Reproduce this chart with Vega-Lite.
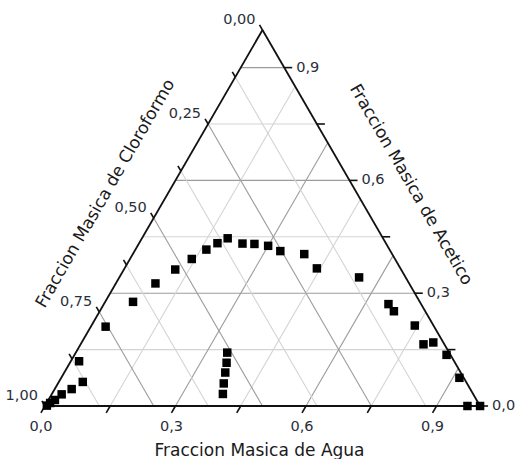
{
  "$schema": "https://vega.github.io/schema/vega-lite/v6.json",
  "width": 516,
  "height": 459,
  "autosize": {"type": "fit", "contains": "padding"},
  "padding": 0,
  "background": "white",
  "config": {"view": {"stroke": null}},
  "datasets": {
    "points": [
      {"agua": 0.004, "acetico": 0.001},
      {"agua": 0.008, "acetico": 0.008},
      {"agua": 0.015, "acetico": 0.016},
      {"agua": 0.023, "acetico": 0.031},
      {"agua": 0.039, "acetico": 0.045},
      {"agua": 0.055, "acetico": 0.064},
      {"agua": 0.019, "acetico": 0.119},
      {"agua": 0.034, "acetico": 0.211},
      {"agua": 0.064, "acetico": 0.277},
      {"agua": 0.091, "acetico": 0.326},
      {"agua": 0.118, "acetico": 0.363},
      {"agua": 0.142, "acetico": 0.391},
      {"agua": 0.163, "acetico": 0.416},
      {"agua": 0.18, "acetico": 0.433},
      {"agua": 0.197, "acetico": 0.446},
      {"agua": 0.238, "acetico": 0.432},
      {"agua": 0.266, "acetico": 0.431},
      {"agua": 0.3, "acetico": 0.426},
      {"agua": 0.335, "acetico": 0.412},
      {"agua": 0.394, "acetico": 0.404},
      {"agua": 0.442, "acetico": 0.366},
      {"agua": 0.551, "acetico": 0.342},
      {"agua": 0.654, "acetico": 0.271},
      {"agua": 0.676, "acetico": 0.252},
      {"agua": 0.743, "acetico": 0.214},
      {"agua": 0.788, "acetico": 0.164},
      {"agua": 0.808, "acetico": 0.169},
      {"agua": 0.855, "acetico": 0.136},
      {"agua": 0.915, "acetico": 0.075},
      {"agua": 0.971, "acetico": 0.0},
      {"agua": 1.0, "acetico": 0.0},
      {"agua": 0.348, "acetico": 0.142},
      {"agua": 0.36, "acetico": 0.115},
      {"agua": 0.37, "acetico": 0.089},
      {"agua": 0.381, "acetico": 0.06},
      {"agua": 0.393, "acetico": 0.032}
    ],
    "grid": [
      {"kind": "minor", "a1": 0, "b1": 0.15, "a2": 0.85, "b2": 0.15},
      {"kind": "major", "a1": 0, "b1": 0.3, "a2": 0.7, "b2": 0.3},
      {"kind": "minor", "a1": 0, "b1": 0.45, "a2": 0.55, "b2": 0.45},
      {"kind": "major", "a1": 0, "b1": 0.6, "a2": 0.4, "b2": 0.6},
      {"kind": "minor", "a1": 0, "b1": 0.75, "a2": 0.25, "b2": 0.75},
      {"kind": "major", "a1": 0, "b1": 0.9, "a2": 0.1, "b2": 0.9},
      {"kind": "minor", "a1": 0.15, "b1": 0, "a2": 0.15, "b2": 0.85},
      {"kind": "major", "a1": 0.3, "b1": 0, "a2": 0.3, "b2": 0.7},
      {"kind": "minor", "a1": 0.45, "b1": 0, "a2": 0.45, "b2": 0.55},
      {"kind": "major", "a1": 0.6, "b1": 0, "a2": 0.6, "b2": 0.4},
      {"kind": "minor", "a1": 0.75, "b1": 0, "a2": 0.75, "b2": 0.25},
      {"kind": "major", "a1": 0.9, "b1": 0, "a2": 0.9, "b2": 0.1},
      {"kind": "minor", "a1": 0.875, "b1": 0, "a2": 0, "b2": 0.875},
      {"kind": "major", "a1": 0.75, "b1": 0, "a2": 0, "b2": 0.75},
      {"kind": "minor", "a1": 0.625, "b1": 0, "a2": 0, "b2": 0.625},
      {"kind": "major", "a1": 0.5, "b1": 0, "a2": 0, "b2": 0.5},
      {"kind": "minor", "a1": 0.375, "b1": 0, "a2": 0, "b2": 0.375},
      {"kind": "major", "a1": 0.25, "b1": 0, "a2": 0, "b2": 0.25},
      {"kind": "minor", "a1": 0.125, "b1": 0, "a2": 0, "b2": 0.125}
    ],
    "edges": [
      {"a1": 0, "b1": 0, "a2": 1, "b2": 0},
      {"a1": 1, "b1": 0, "a2": 0, "b2": 1},
      {"a1": 0, "b1": 1, "a2": 0, "b2": 0}
    ],
    "ticks": [
      {"axis": "right", "agua": 1.0, "acetico": 0.0, "label": "0,0"},
      {"axis": "right", "agua": 0.85, "acetico": 0.15, "label": ""},
      {"axis": "right", "agua": 0.7, "acetico": 0.3, "label": "0,3"},
      {"axis": "right", "agua": 0.55, "acetico": 0.45, "label": ""},
      {"axis": "right", "agua": 0.4, "acetico": 0.6, "label": "0,6"},
      {"axis": "right", "agua": 0.25, "acetico": 0.75, "label": ""},
      {"axis": "right", "agua": 0.1, "acetico": 0.9, "label": "0,9"},
      {"axis": "bottom", "agua": 0.0, "acetico": 0, "label": "0,0"},
      {"axis": "bottom", "agua": 0.15, "acetico": 0, "label": ""},
      {"axis": "bottom", "agua": 0.3, "acetico": 0, "label": "0,3"},
      {"axis": "bottom", "agua": 0.45, "acetico": 0, "label": ""},
      {"axis": "bottom", "agua": 0.6, "acetico": 0, "label": "0,6"},
      {"axis": "bottom", "agua": 0.75, "acetico": 0, "label": ""},
      {"axis": "bottom", "agua": 0.9, "acetico": 0, "label": "0,9"},
      {"axis": "left", "agua": 0, "acetico": 1.0, "label": "0,00"},
      {"axis": "left", "agua": 0, "acetico": 0.875, "label": ""},
      {"axis": "left", "agua": 0, "acetico": 0.75, "label": "0,25"},
      {"axis": "left", "agua": 0, "acetico": 0.625, "label": ""},
      {"axis": "left", "agua": 0, "acetico": 0.5, "label": "0,50"},
      {"axis": "left", "agua": 0, "acetico": 0.375, "label": ""},
      {"axis": "left", "agua": 0, "acetico": 0.25, "label": "0,75"},
      {"axis": "left", "agua": 0, "acetico": 0.125, "label": ""},
      {"axis": "left", "agua": 0, "acetico": 0.0, "label": "1,00"}
    ],
    "titles": [
      {"axis": "left", "title": "Fraccion Masica de Cloroformo", "agua": 0, "acetico": 0.5},
      {"axis": "right", "title": "Fraccion Masica de Acetico", "agua": 0.5, "acetico": 0.5},
      {"axis": "bottom", "title": "Fraccion Masica de Agua", "agua": 0.5, "acetico": 0}
    ]
  },
  "layer": [
    {
      "data": {"name": "grid"},
      "transform": [
        {"calculate": "datum.a1 + datum.b1 / 2", "as": "X1"},
        {"calculate": "datum.a2 + datum.b2 / 2", "as": "X2"}
      ],
      "mark": {"type": "rule", "strokeWidth": 1.1},
      "encoding": {
        "x": {"field": "X1", "type": "quantitative", "scale": {"domain": [-0.10321, 1.08028], "nice": false, "zero": false}, "axis": null},
        "y": {"field": "b1", "type": "quantitative", "scale": {"domain": [-0.14096, 1.07979], "nice": false, "zero": false}, "axis": null},
        "x2": {"field": "X2"},
        "y2": {"field": "b2"},
        "color": {"field": "kind", "type": "nominal", "scale": {"domain": ["major", "minor"], "range": ["#9c9c9c", "#d4d4d4"]}, "legend": null}
      }
    },
    {
      "data": {"name": "edges"},
      "transform": [
        {"calculate": "datum.a1 + datum.b1 / 2", "as": "X1"},
        {"calculate": "datum.a2 + datum.b2 / 2", "as": "X2"}
      ],
      "mark": {"type": "rule", "strokeWidth": 1.8, "color": "#111111"},
      "encoding": {
        "x": {"field": "X1", "type": "quantitative", "scale": {"domain": [-0.10321, 1.08028], "nice": false, "zero": false}, "axis": null},
        "y": {"field": "b1", "type": "quantitative", "scale": {"domain": [-0.14096, 1.07979], "nice": false, "zero": false}, "axis": null},
        "x2": {"field": "X2"},
        "y2": {"field": "b2"}
      }
    },
    {
      "data": {"name": "ticks"},
      "transform": [{"calculate": "datum.agua + datum.acetico / 2", "as": "X"}],
      "mark": {"type": "point", "filled": false, "stroke": "#111111", "strokeWidth": 1.6, "size": 64, "opacity": 1},
      "encoding": {
        "x": {"field": "X", "type": "quantitative", "scale": {"domain": [-0.10321, 1.08028], "nice": false, "zero": false}, "axis": null},
        "y": {"field": "acetico", "type": "quantitative", "scale": {"domain": [-0.14096, 1.07979], "nice": false, "zero": false}, "axis": null},
        "shape": {"field": "axis", "type": "nominal", "scale": {"domain": ["right", "bottom", "left"], "range": ["M0,0L2,0", "M0,0L-1,1.732", "M0,0L-0.75,-1.3"]}, "legend": null}
      }
    },
    {
      "data": {"name": "points"},
      "transform": [{"calculate": "datum.agua + datum.acetico / 2", "as": "X"}],
      "mark": {"type": "square", "color": "#000000", "size": 72, "opacity": 1},
      "encoding": {
        "x": {"field": "X", "type": "quantitative", "scale": {"domain": [-0.10321, 1.08028], "nice": false, "zero": false}, "axis": null},
        "y": {"field": "acetico", "type": "quantitative", "scale": {"domain": [-0.14096, 1.07979], "nice": false, "zero": false}, "axis": null}
      }
    },
    {
      "data": {"name": "ticks"},
      "transform": [
        {"filter": "datum.axis == 'right' && datum.label != ''"},
        {"calculate": "datum.agua + datum.acetico / 2", "as": "X"}
      ],
      "mark": {"type": "text", "align": "left", "baseline": "middle", "dx": 12, "font": "DejaVu Sans", "fontSize": 14.5, "color": "#2a2f3a"},
      "encoding": {
        "x": {"field": "X", "type": "quantitative", "scale": {"domain": [-0.10321, 1.08028], "nice": false, "zero": false}, "axis": null},
        "y": {"field": "acetico", "type": "quantitative", "scale": {"domain": [-0.14096, 1.07979], "nice": false, "zero": false}, "axis": null},
        "text": {"field": "label"}
      }
    },
    {
      "data": {"name": "ticks"},
      "transform": [
        {"filter": "datum.axis == 'bottom' && datum.label != ''"},
        {"calculate": "datum.agua + datum.acetico / 2", "as": "X"}
      ],
      "mark": {"type": "text", "align": "center", "baseline": "middle", "dx": -4, "dy": 21, "font": "DejaVu Sans", "fontSize": 14.5, "color": "#2a2f3a"},
      "encoding": {
        "x": {"field": "X", "type": "quantitative", "scale": {"domain": [-0.10321, 1.08028], "nice": false, "zero": false}, "axis": null},
        "y": {"field": "acetico", "type": "quantitative", "scale": {"domain": [-0.14096, 1.07979], "nice": false, "zero": false}, "axis": null},
        "text": {"field": "label"}
      }
    },
    {
      "data": {"name": "ticks"},
      "transform": [
        {"filter": "datum.axis == 'left' && datum.label != ''"},
        {"calculate": "datum.agua + datum.acetico / 2", "as": "X"}
      ],
      "mark": {"type": "text", "align": "right", "baseline": "middle", "dx": -7, "dy": -10, "font": "DejaVu Sans", "fontSize": 14.5, "color": "#2a2f3a"},
      "encoding": {
        "x": {"field": "X", "type": "quantitative", "scale": {"domain": [-0.10321, 1.08028], "nice": false, "zero": false}, "axis": null},
        "y": {"field": "acetico", "type": "quantitative", "scale": {"domain": [-0.14096, 1.07979], "nice": false, "zero": false}, "axis": null},
        "text": {"field": "label"}
      }
    },
    {
      "data": {"name": "titles"},
      "transform": [
        {"filter": "datum.axis == 'left'"},
        {"calculate": "datum.agua + datum.acetico / 2", "as": "X"}
      ],
      "mark": {"type": "text", "align": "center", "baseline": "middle", "angle": -60, "dx": -3, "dy": -54, "font": "DejaVu Sans", "fontSize": 17, "color": "#1a1a1a"},
      "encoding": {
        "x": {"field": "X", "type": "quantitative", "scale": {"domain": [-0.10321, 1.08028], "nice": false, "zero": false}, "axis": null},
        "y": {"field": "acetico", "type": "quantitative", "scale": {"domain": [-0.14096, 1.07979], "nice": false, "zero": false}, "axis": null},
        "text": {"field": "title"}
      }
    },
    {
      "data": {"name": "titles"},
      "transform": [
        {"filter": "datum.axis == 'right'"},
        {"calculate": "datum.agua + datum.acetico / 2", "as": "X"}
      ],
      "mark": {"type": "text", "align": "center", "baseline": "middle", "angle": 60, "dx": -9, "dy": -51, "font": "DejaVu Sans", "fontSize": 17, "color": "#1a1a1a"},
      "encoding": {
        "x": {"field": "X", "type": "quantitative", "scale": {"domain": [-0.10321, 1.08028], "nice": false, "zero": false}, "axis": null},
        "y": {"field": "acetico", "type": "quantitative", "scale": {"domain": [-0.14096, 1.07979], "nice": false, "zero": false}, "axis": null},
        "text": {"field": "title"}
      }
    },
    {
      "data": {"name": "titles"},
      "transform": [
        {"filter": "datum.axis == 'bottom'"},
        {"calculate": "datum.agua + datum.acetico / 2", "as": "X"}
      ],
      "mark": {"type": "text", "align": "center", "baseline": "middle", "dx": -3, "dy": 45, "font": "DejaVu Sans", "fontSize": 17, "color": "#1a1a1a"},
      "encoding": {
        "x": {"field": "X", "type": "quantitative", "scale": {"domain": [-0.10321, 1.08028], "nice": false, "zero": false}, "axis": null},
        "y": {"field": "acetico", "type": "quantitative", "scale": {"domain": [-0.14096, 1.07979], "nice": false, "zero": false}, "axis": null},
        "text": {"field": "title"}
      }
    }
  ]
}
